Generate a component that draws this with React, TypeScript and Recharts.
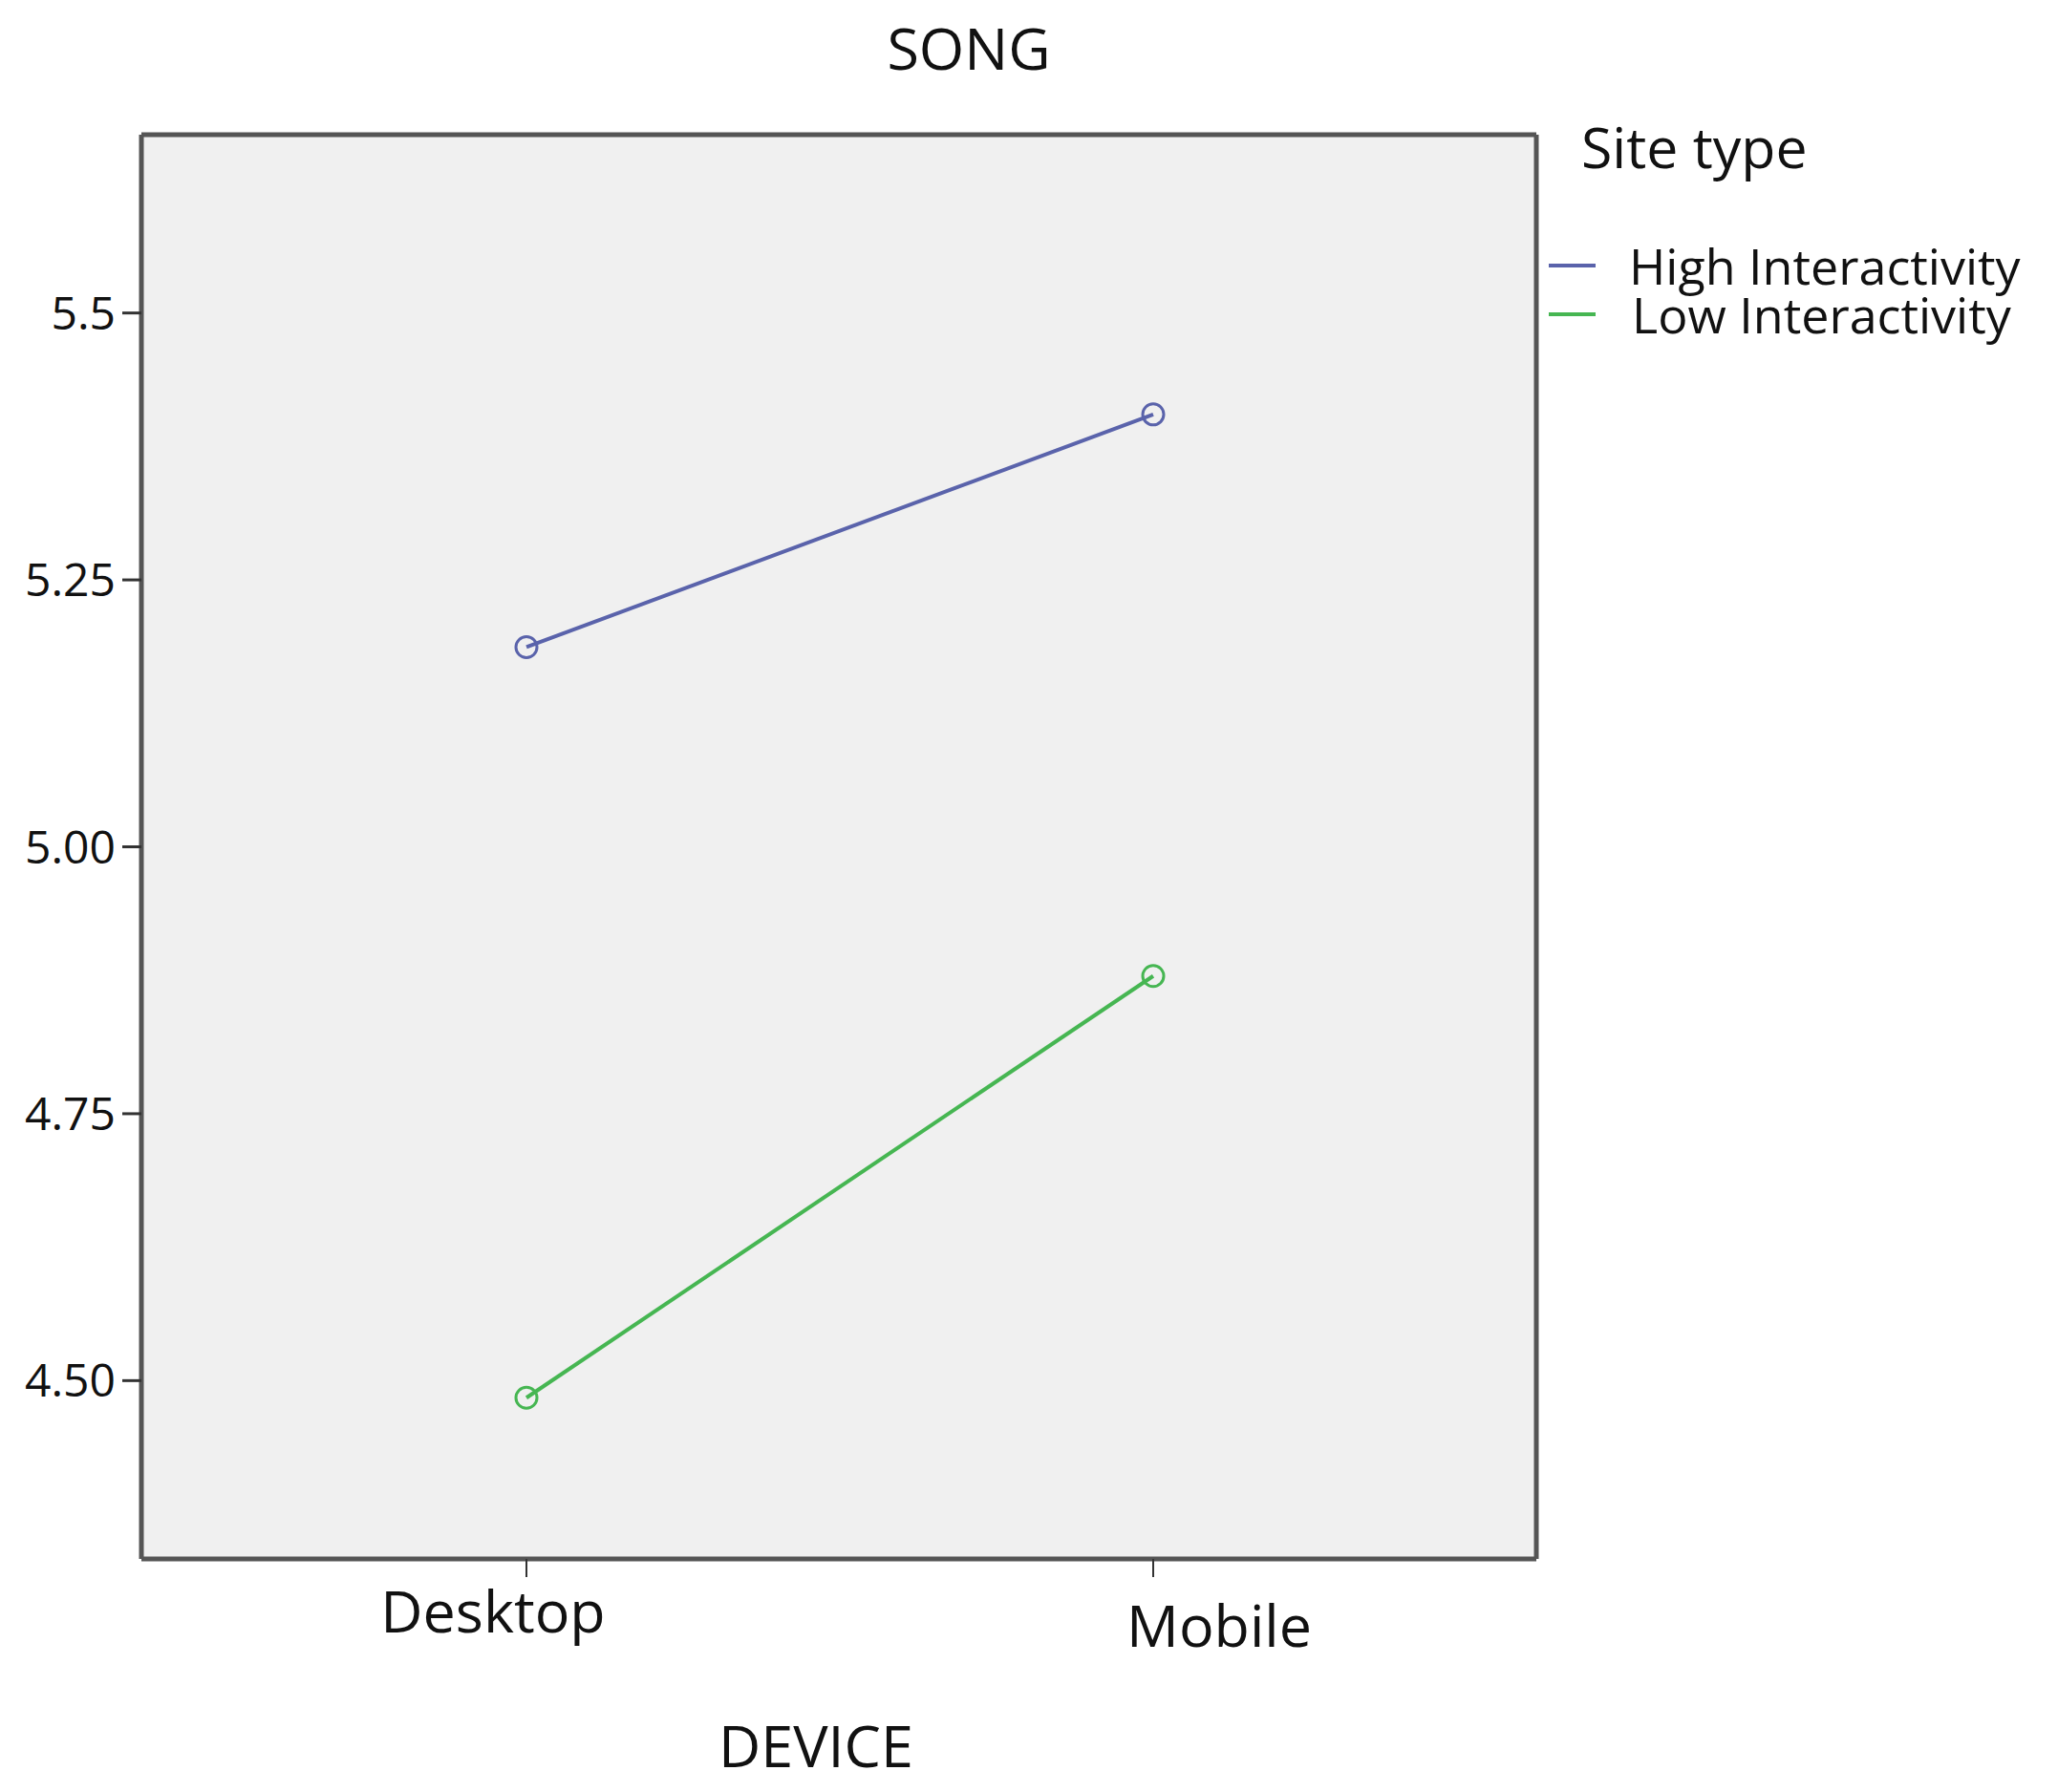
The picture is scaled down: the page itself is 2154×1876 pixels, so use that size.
import { LineChart, Line, XAxis, YAxis, CartesianGrid, Legend } from "recharts";

const devices = ["Desktop", "Mobile"];
const highInteractivity = [5.187, 5.405];
const lowInteractivity = [4.484, 4.879];
const yTicks = [4.5, 4.75, 5.0, 5.25, 5.5];
const yTickLabels = ["4.50", "4.75", "5.00", "5.25", "5.5"];
const seriesNames = ["High Interactivity", "Low Interactivity"];

const FONT = "'Open Sans', 'DejaVu Sans', sans-serif";
const W = 2146;
const H = 1868;

const chartData = devices.map((d, i) => ({
    device: d,
    high: highInteractivity[i],
    low: lowInteractivity[i],
}));

// label nudges, the source image has them a bit off the tick marks
const xLabelShift: Record<string, { dx: number; dy: number }> = {
    Desktop: { dx: -35, dy: 56 },
    Mobile: { dx: 69, dy: 71 },
};

function DeviceTick(props: any) {
    const { x, y, payload } = props;
    const s = xLabelShift[payload.value] || { dx: 0, dy: 50 };
    return (
        <text x={x + s.dx} y={y + s.dy} textAnchor="middle" fontSize={61} fontFamily={FONT} fill="#111">
            {payload.value}
        </text>
    );
}

function SiteLegend(props: any) {
    const payload = props.payload || [];
    return (
        <div style={{ position: "relative", width: 540, height: 260, fontFamily: FONT, color: "#111" }}>
            <div style={{ position: "absolute", left: 34, top: 14, fontSize: 59, lineHeight: "78px", whiteSpace: "nowrap" }}>
                Site type
            </div>
            {payload.map((entry: any, i: number) => (
                <div
                    key={entry.value}
                    style={{
                        position: "absolute",
                        left: 0,
                        top: 153 + i * 51,
                        height: 49,
                        display: "flex",
                        alignItems: "center",
                        whiteSpace: "nowrap",
                    }}
                >
                    <span style={{ display: "inline-block", width: 49, height: 4, background: entry.color, marginRight: 35 + i * 3 }} />
                    <span style={{ fontSize: 52, lineHeight: "49px" }}>{entry.value}</span>
                </div>
            ))}
        </div>
    );
}

export default function App() {
    return (
        <div style={{ position: "relative", width: W, height: H }}>
            <LineChart width={W} height={H} data={chartData} margin={{ top: 132, right: 545, bottom: 144, left: 0 }}>
                <CartesianGrid horizontal={false} vertical={false} fill="#f0f0f0" />
                <XAxis
                    dataKey="device"
                    height={100}
                    padding={{ left: 403, right: 401 }}
                    axisLine={{ stroke: "#555", strokeWidth: 5 }}
                    tickLine={{ stroke: "#333", strokeWidth: 2 }}
                    tickSize={19}
                    tick={<DeviceTick />}
                />
                <XAxis
                    xAxisId="top"
                    dataKey="device"
                    orientation="top"
                    height={1}
                    tick={false}
                    tickLine={false}
                    axisLine={{ stroke: "#555", strokeWidth: 5 }}
                />
                <YAxis
                    width={140}
                    domain={[4.333, 5.667]}
                    allowDataOverflow
                    ticks={yTicks}
                    tickFormatter={(v: number) => yTickLabels[yTicks.indexOf(v)]}
                    axisLine={{ stroke: "#555", strokeWidth: 5 }}
                    tickLine={{ stroke: "#333", strokeWidth: 3 }}
                    tickSize={20}
                    tickMargin={7}
                    tick={{ fontSize: 48, fontFamily: FONT, fill: "#111" }}
                />
                <YAxis
                    yAxisId="right"
                    orientation="right"
                    width={1}
                    domain={[4.333, 5.667]}
                    tick={false}
                    tickLine={false}
                    axisLine={{ stroke: "#555", strokeWidth: 5 }}
                />
                <Legend
                    layout="horizontal"
                    verticalAlign="middle"
                    align="center"
                    content={<SiteLegend />}
                    wrapperStyle={{ position: "absolute", left: 1613, top: 92, width: 540, height: 260 }}
                />
                <Line
                    type="linear"
                    dataKey="high"
                    name={seriesNames[0]}
                    stroke="#5a63ab"
                    strokeWidth={4}
                    dot={{ r: 11, strokeWidth: 3, fill: "none" }}
                    isAnimationActive={false}
                />
                <Line
                    type="linear"
                    dataKey="low"
                    name={seriesNames[1]}
                    stroke="#46b652"
                    strokeWidth={4}
                    dot={{ r: 11, strokeWidth: 3, fill: "none" }}
                    isAnimationActive={false}
                />
            </LineChart>
            <svg width={W} height={H} style={{ position: "absolute", left: 0, top: 0, pointerEvents: "none" }}>
                <text x={1006} y={65} textAnchor="middle" fontSize={61} fontFamily={FONT} fill="#111">
                    SONG
                </text>
                <text x={846} y={1842} textAnchor="middle" fontSize={61} fontFamily={FONT} fill="#111">
                    DEVICE
                </text>
            </svg>
        </div>
    );
}
